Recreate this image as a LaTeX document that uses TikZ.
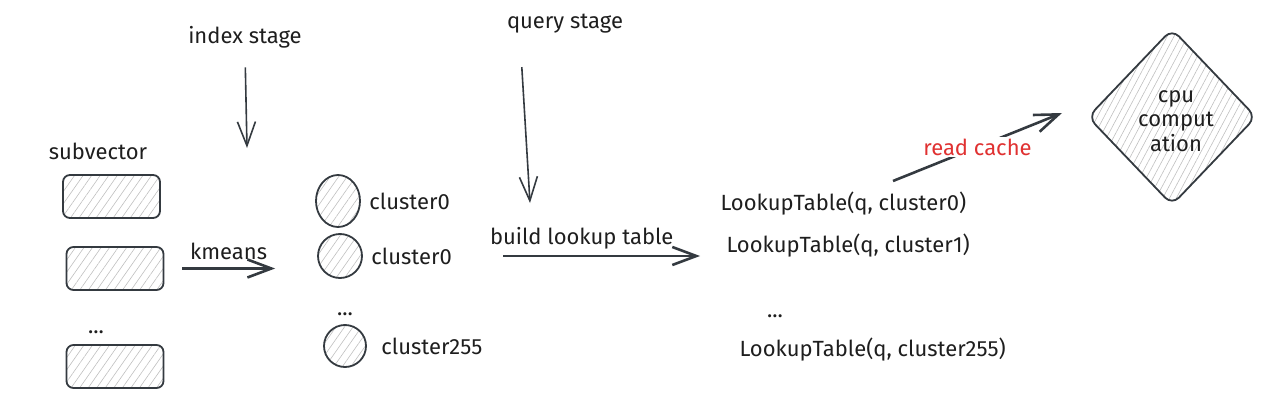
\documentclass[tikz,border=0pt]{standalone}
\usepackage{fontspec}
\setmainfont{Fira Sans}
\usetikzlibrary{positioning,shapes.geometric,patterns.meta,arrows.meta}

\definecolor{inkgray}{HTML}{343A40}
\definecolor{textblack}{HTML}{1E1E1E}
\definecolor{cachered}{HTML}{E03131}

\tikzset{
  labeltext/.style={font=\fontsize{22}{24.5}\selectfont, text=textblack},
  hatched/.style={pattern={Lines[angle=55,distance=7pt,line width=0.6pt]}, pattern color=gray!50},
  vecbox/.style={draw=inkgray, line width=1.8pt, rounded corners=7pt, hatched,
    minimum width=97pt, minimum height=43pt},
  centroid/.style={ellipse, draw=inkgray, line width=1.8pt, hatched, inner sep=0pt},
  stagearrow/.style={draw=inkgray, line width=1.6pt, -{Straight Barb[length=24pt,width=18pt]}},
  flowarrow/.style={draw=inkgray, line width=2.6pt, -{Straight Barb[length=24pt,width=18pt]}},
}

\begin{document}
\begin{tikzpicture}[x=1pt, y=-1pt]
    \useasboundingbox (0,0) rectangle (1280,404);

    % stages
    \node[labeltext] (indexlbl) at (245,37) {index stage};
    \node[labeltext] (querylbl) at (565,24) {query stage};
    \coordinate (indextip) at (247,148);
    \coordinate (querytip) at (530,203);
    \draw[stagearrow, shorten <=16pt] (indexlbl.south) -- (indextip);
    \draw[stagearrow, shorten <=30pt] (querylbl.south -| 520,0) -- (querytip);

    % subvectors
    \node[labeltext] (subvec) at (98,151) {subvector};
    \node[vecbox] (vec0) at (111.5,196.5) {};
    \node[vecbox] (vec1) at (115,268.5) {};
    \node[labeltext] (vecdots) at (96,332) {...};
    \node[vecbox] (vec2) at (115,366.5) {};

    % clusters
    \node[centroid, minimum width=44pt, minimum height=52pt] (c0) at (338,201) {};
    \node[centroid, minimum size=44pt] (c1) at (340,256) {};
    \node[labeltext] (cdots) at (345,314) {...};
    \node[centroid, minimum size=42pt] (c2) at (345,346) {};
    \node[labeltext, right=5pt of c0] (clu0) {cluster0};
    \node[labeltext, right=5pt of c1] (clu1) {cluster0};
    \node[labeltext, right=11pt of c2] (clu2) {cluster255};

    \draw[flowarrow, shorten <=18pt, shorten >=42pt] (vec1.east) -- (vec1.east -| c1.west)
        node[labeltext, pos=0.42, above=4pt] (kmeanslbl) {kmeans};

    % lookup tables
    \node[labeltext, anchor=west] (lt0) at (717,204) {LookupTable(q, cluster0)};
    \node[labeltext, anchor=west] (lt1) at (723,246) {LookupTable(q, cluster1)};
    \node[labeltext] (ltdots) at (775,316) {...};
    \node[labeltext, anchor=west] (lt2) at (736,350) {LookupTable(q, cluster255)};

    \draw[flowarrow, shorten <=48pt, shorten >=23pt] (clu1.east) -- (clu1.east -| lt1.west)
        node[labeltext, pos=0, anchor=south west, xshift=30pt, yshift=2pt] (buildlbl) {build lookup table};

    % cpu
    \node[diamond, draw=inkgray, line width=1.8pt, rounded corners=10pt,
        pattern={Lines[angle=62,distance=6pt,line width=0.6pt]}, pattern color=gray!50,
        minimum width=168pt, minimum height=176pt] (cpu) at (1172,117) {};
    \node[labeltext, align=center] (cpulbl) at (1176,121) {cpu\\comput\\ation};

    \coordinate (cachefrom) at (893,181);
    \coordinate (cachetip) at (1062,113);
    \draw[flowarrow] (cachefrom) -- (cachetip)
        node[labeltext, midway, fill=white, inner sep=2pt, text=cachered] (cachelbl) {read cache};
\end{tikzpicture}
\end{document}
